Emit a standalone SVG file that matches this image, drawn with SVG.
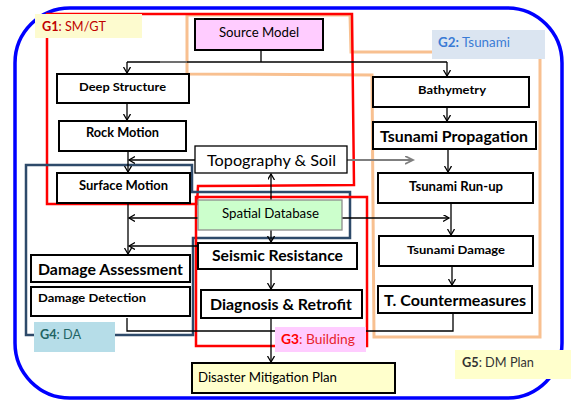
<svg xmlns="http://www.w3.org/2000/svg" width="571" height="401" viewBox="0 0 571 401">
<style>
text{font-family:Lato,"Liberation Sans",sans-serif;fill:#000}
.b{font-weight:bold}
.node rect{fill:#fff;stroke:#000;stroke-width:2}
.c{fill:none;stroke:#000;stroke-width:1.3}
.arr{marker-end:url(#ah)}
.grp{fill:none}
</style>
<defs>
<marker id="ah" markerUnits="userSpaceOnUse" markerWidth="10" markerHeight="10" refX="6" refY="3.5" orient="auto">
<path d="M0,0 L6,3.5 L0,7" fill="none" stroke="#000" stroke-width="1.3"/>
</marker>
<marker id="ahg" markerUnits="userSpaceOnUse" markerWidth="12" markerHeight="10" refX="8" refY="4" orient="auto">
<path d="M0,0 L8,4 L0,8" fill="none" stroke="#7f7f7f" stroke-width="1.8"/>
</marker>
</defs>

<g id="group-outlines">
<rect id="G5-border" x="15" y="8" width="547" height="390" rx="55" fill="none" stroke="#0000ff" stroke-width="3.5"/>
<polygon id="G2-border" class="grp" points="187,15 350,15 351,52 540,52 540,337 374,337 372,75 187,74" stroke="#f8c090" stroke-width="3"/>
<polygon id="G1-border" class="grp" points="47,14 352,14 354,185 198,186 197,204 47,204" stroke="#ff0000" stroke-width="2.5"/>
<polygon id="G4-border" class="grp" points="26,165 192,165 192,192 350,192 350,238 193,238 193,335 26,335" stroke="#2e4a6a" stroke-width="2.5"/>
<rect id="G3-border" class="grp" x="196" y="197" width="171" height="149" stroke="#ff0000" stroke-width="2.5"/>
</g>

<g id="connectors">
<line class="c" x1="261" y1="50" x2="261" y2="62"/>
<line class="c" x1="127" y1="62" x2="447" y2="62"/>
<line x1="160" y1="62" x2="187" y2="62" stroke="#808080" stroke-width="1.5"/>
<line class="c arr" x1="127" y1="62" x2="127" y2="73"/>
<line class="c arr" x1="447" y1="62" x2="447" y2="76"/>
<line class="c arr" x1="127" y1="103" x2="127" y2="120"/>
<line class="c arr" x1="128" y1="151" x2="128" y2="172"/>
<line class="c arr" x1="195" y1="160" x2="129" y2="160"/>
<line x1="347" y1="160" x2="413" y2="160" stroke="#7f7f7f" stroke-width="2" marker-end="url(#ahg)"/>
<line class="c arr" x1="271" y1="200" x2="271" y2="174"/>
<line class="c arr" x1="271" y1="230" x2="271" y2="242"/>
<line class="c arr" x1="198" y1="218" x2="129" y2="218"/>
<line class="c arr" x1="342" y1="218" x2="449" y2="218"/>
<line class="c arr" x1="128" y1="203" x2="128" y2="254"/>
<line class="c arr" x1="198" y1="246" x2="129" y2="246"/>
<line class="c arr" x1="271" y1="269" x2="271" y2="289"/>
<line class="c arr" x1="271" y1="318" x2="271" y2="362"/>
<polyline class="c" points="127,318 127,331 453,331 453,313" stroke="#333"/>
<line class="c arr" x1="447" y1="107" x2="447" y2="121"/>
<line class="c arr" x1="448" y1="149" x2="448" y2="172"/>
<line class="c arr" x1="451" y1="203" x2="451" y2="235"/>
<line class="c arr" x1="452" y1="266" x2="452" y2="285"/>
</g>

<g id="source-model" class="node"><rect x="195" y="19" width="128" height="31" style="fill:#ffccff"/><text x="259" y="37" font-size="13" text-anchor="middle" textLength="80" lengthAdjust="spacingAndGlyphs">Source Model</text></g>
<g id="deep-structure" class="node"><rect x="57" y="74" width="132" height="29"/><text class="b" x="122.5" y="91" font-size="12" text-anchor="middle" textLength="87" lengthAdjust="spacingAndGlyphs">Deep Structure</text></g>
<g id="rock-motion" class="node"><rect x="59" y="121" width="127" height="30"/><text class="b" x="122.5" y="137" font-size="12.5" text-anchor="middle" textLength="73" lengthAdjust="spacingAndGlyphs">Rock Motion</text></g>
<g id="surface-motion" class="node"><rect x="57" y="173" width="133" height="30"/><text class="b" x="123.5" y="190" font-size="12.5" text-anchor="middle" textLength="89" lengthAdjust="spacingAndGlyphs">Surface Motion</text></g>
<g id="topography-soil" class="node"><rect x="195" y="146" width="152" height="27" style="stroke-width:1.3"/><text x="271.5" y="166" font-size="16" text-anchor="middle" textLength="129" lengthAdjust="spacingAndGlyphs">Topography &amp; Soil</text></g>
<g id="spatial-database" class="node"><rect x="198" y="200" width="144" height="30" style="fill:#ccffcc;stroke:#8c8c8c;stroke-width:1.3"/><text x="270.5" y="218" font-size="13" text-anchor="middle" textLength="97" lengthAdjust="spacingAndGlyphs">Spatial Database</text></g>
<g id="seismic-resistance" class="node"><rect x="198" y="243" width="159" height="26"/><text class="b" x="277.5" y="261" font-size="15" text-anchor="middle" textLength="131" lengthAdjust="spacingAndGlyphs">Seismic Resistance</text></g>
<g id="diagnosis-retrofit" class="node"><rect x="201" y="290" width="161" height="28"/><text class="b" x="281" y="310" font-size="16" text-anchor="middle" textLength="142" lengthAdjust="spacingAndGlyphs">Diagnosis &amp; Retrofit</text></g>
<g id="damage-assessment" class="node"><rect x="31" y="255" width="159" height="27"/><text class="b" x="110.5" y="275" font-size="16" text-anchor="middle" textLength="145" lengthAdjust="spacingAndGlyphs">Damage Assessment</text></g>
<g id="damage-detection" class="node"><rect x="31" y="287" width="159" height="29"/><text class="b" x="38" y="302" font-size="12" textLength="108" lengthAdjust="spacingAndGlyphs">Damage Detection</text></g>
<g id="disaster-mitigation-plan" class="node"><rect x="192" y="363" width="203" height="30" style="fill:#ffffcc"/><text x="198" y="382" font-size="13" textLength="139" lengthAdjust="spacingAndGlyphs">Disaster Mitigation Plan</text></g>
<g id="bathymetry" class="node"><rect x="373" y="77" width="156" height="30"/><text class="b" x="452" y="94" font-size="12" text-anchor="middle" textLength="68" lengthAdjust="spacingAndGlyphs">Bathymetry</text></g>
<g id="tsunami-propagation" class="node"><rect x="373" y="122" width="163" height="27"/><text class="b" x="454" y="142" font-size="16" text-anchor="middle" textLength="148" lengthAdjust="spacingAndGlyphs">Tsunami Propagation</text></g>
<g id="tsunami-run-up" class="node"><rect x="378" y="173" width="155" height="30"/><text class="b" x="456" y="191" font-size="12.5" text-anchor="middle" textLength="94" lengthAdjust="spacingAndGlyphs">Tsunami Run-up</text></g>
<g id="tsunami-damage" class="node"><rect x="379" y="236" width="154" height="30"/><text class="b" x="456" y="254" font-size="12" text-anchor="middle" textLength="98" lengthAdjust="spacingAndGlyphs">Tsunami Damage</text></g>
<g id="t-countermeasures" class="node"><rect x="378" y="286" width="154" height="27"/><text class="b" x="455" y="306" font-size="16" text-anchor="middle" textLength="142" lengthAdjust="spacingAndGlyphs">T. Countermeasures</text></g>

<g id="G1-label"><rect x="35" y="14" width="107" height="24" fill="#fdfbcf"/><text x="42" y="31" font-size="14" fill="#c00000" textLength="64" lengthAdjust="spacingAndGlyphs"><tspan class="b" fill="#c00000">G1</tspan><tspan fill="#c00000">: SM/GT</tspan></text></g>
<g id="G2-label"><rect x="432" y="30" width="113" height="29" fill="#dbe5f1"/><text x="438" y="47" font-size="13" textLength="72" lengthAdjust="spacingAndGlyphs"><tspan class="b" fill="#3a7bd5">G2:</tspan><tspan fill="#3a7bd5"> Tsunami</tspan></text></g>
<g id="G3-label"><rect x="275" y="327" width="91" height="25" fill="#ffccff"/><text x="281" y="344" font-size="13" textLength="74" lengthAdjust="spacingAndGlyphs"><tspan class="b" fill="#ff0000">G3</tspan><tspan fill="#e8242c">: Building</tspan></text></g>
<g id="G4-label"><rect x="34" y="322" width="81" height="30" fill="#b6dde8"/><text x="40" y="339" font-size="13" textLength="41" lengthAdjust="spacingAndGlyphs"><tspan class="b" fill="#1f6464">G4</tspan><tspan fill="#1f6464">: DA</tspan></text></g>
<g id="G5-label"><rect x="455" y="350" width="116" height="29" fill="#ffffcc"/><text x="462" y="367" font-size="13" textLength="72" lengthAdjust="spacingAndGlyphs"><tspan class="b" fill="#333">G5</tspan><tspan fill="#333">: DM Plan</tspan></text></g>
</svg>
